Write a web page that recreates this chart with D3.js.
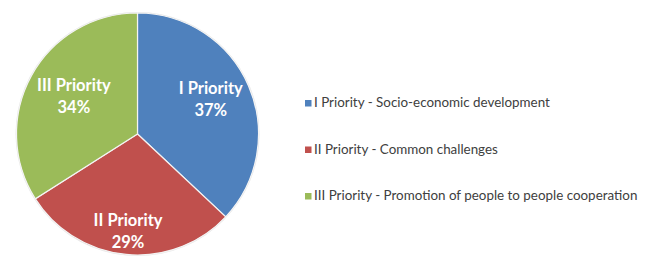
<!DOCTYPE html>
<html><head><meta charset="utf-8">
<script src="https://cdn.jsdelivr.net/npm/d3@7"></script>
<style>body{margin:0;background:#fff}svg{display:block}</style>
</head><body>
<script>
const categories = ["I Priority", "II Priority", "III Priority"];
const values = [37, 29, 34];
const legendLabels = ["I Priority - Socio-economic development", "II Priority - Common challenges", "III Priority - Promotion of people to people cooperation"];
const colors = ["#4F81BD", "#C0504D", "#9BBB59"];

const W = 655, H = 257;
const cx = 137.5, cy = 134, R = 121;
const labelR = [0.66, 0.83, 0.6];

const svg = d3.select("body").append("svg").attr("width", W).attr("height", H);
const pie = d3.pie().sort(null).value(d => d)(values);
const arc = d3.arc().innerRadius(0).outerRadius(R);
const g = svg.append("g").attr("transform", `translate(${cx},${cy})`);

g.append("circle").attr("r", R + 1).attr("fill", "#e6e6e6");
g.selectAll("path").data(pie).join("path")
  .attr("d", arc).attr("fill", (d, i) => colors[i])
  .attr("stroke", "#f4f4f4").attr("stroke-width", 1.2);

const lab = g.selectAll("g.lab").data(pie).join("g").attr("class", "lab")
  .attr("transform", (d, i) => {
    const a = d3.arc().innerRadius(R * labelR[i]).outerRadius(R * labelR[i]);
    const [x, y] = a.centroid(d);
    return `translate(${x},${y})`;
  });
lab.append("text").attr("text-anchor", "middle").attr("y", -8)
  .style("font-family", "Lato, 'Open Sans', sans-serif").style("font-weight", "bold")
  .style("font-size", "16.5px").attr("fill", "#fff")
  .text((d, i) => categories[i]);
lab.append("text").attr("text-anchor", "middle").attr("y", 14)
  .style("font-family", "Lato, 'Open Sans', sans-serif").style("font-weight", "bold")
  .style("font-size", "16.5px").attr("fill", "#fff")
  .text(d => d.data + "%");

const lg = svg.append("g").attr("transform", "translate(305,0)");
const rows = lg.selectAll("g").data(legendLabels).join("g")
  .attr("transform", (d, i) => `translate(0,${107 + i * 46.5})`);
rows.append("rect").attr("x", 0).attr("y", -7).attr("width", 6.5).attr("height", 6.5)
  .attr("fill", (d, i) => colors[i]);
rows.append("text").attr("x", 9).attr("y", 0)
  .style("font-family", "Lato, 'Open Sans', sans-serif").style("font-size", "13.4px")
  .attr("fill", "#404040").text(d => d);
</script>
</body></html>
